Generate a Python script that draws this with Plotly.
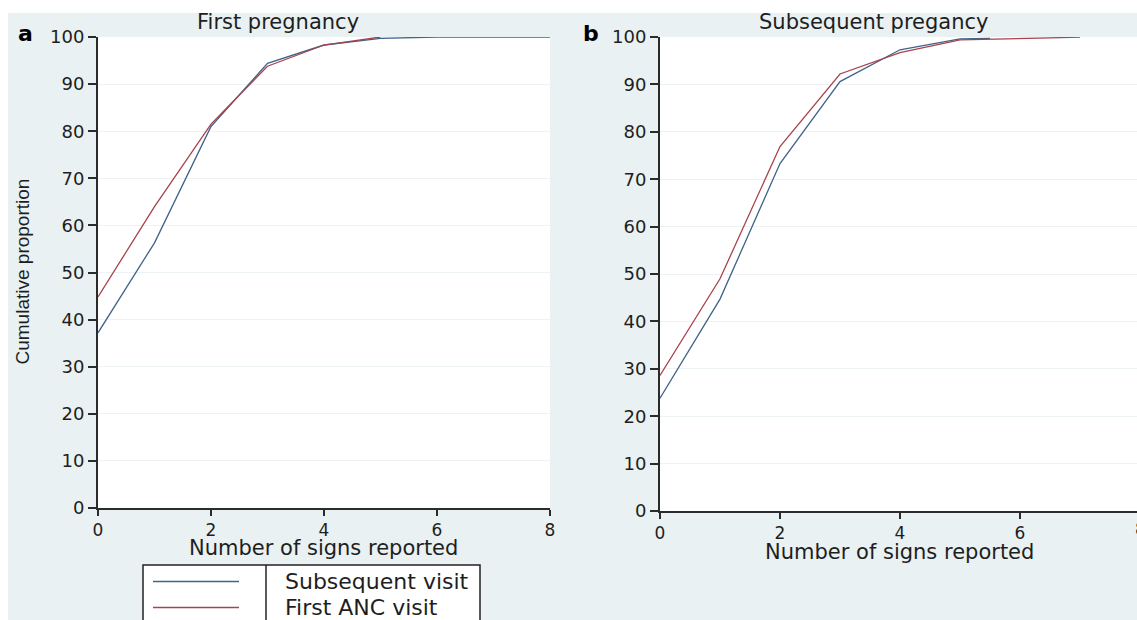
import plotly.graph_objects as go

W, H = 1137, 620

# ---- data ----
a_sub_x = [0, 1, 2, 3, 4, 5, 6, 7, 8]
a_sub_y = [37.2, 56.3, 81.0, 94.4, 98.3, 99.7, 100, 100, 100]
a_first_x = [0, 1, 2, 3, 4, 5]
a_first_y = [44.8, 64.0, 81.5, 93.8, 98.3, 100]

b_sub_x = [0, 1, 2, 3, 4, 5, 5.5]
b_sub_y = [23.8, 44.7, 73.3, 90.6, 97.3, 99.6, 99.7]
b_first_x = [0, 1, 2, 3, 4, 5, 6.5, 7]
b_first_y = [28.6, 49.0, 76.9, 92.2, 96.7, 99.4, 99.8, 100]

panel_titles = ["First pregnancy", "Subsequent pregancy"]
panel_letters = ["a", "b"]
series_names = ["Subsequent visit", "First ANC visit"]
x_title = "Number of signs reported"
y_title = "Cumulative proportion"
y_ticks = list(range(0, 101, 10))
x_ticks = [0, 2, 4, 6, 8]

BLUE = "#3f6389"
RED = "#a8434c"
BG = "#e9f1f2"
AXC = "#2b2b2b"
TXT = "#1e1e1e"
TICKFONT = dict(family="DejaVu Sans", size=18, color=TXT)
XTICKFONT = dict(family="DejaVu Sans", size=17, color=TXT)


def px(x):
    return x / W


def py(y):
    return (H - y) / H


fig = go.Figure()
fig.add_trace(go.Scatter(x=a_sub_x, y=a_sub_y, mode="lines", line=dict(color=BLUE, width=1.3),
                         xaxis="x", yaxis="y", name=series_names[0], showlegend=False))
fig.add_trace(go.Scatter(x=a_first_x, y=a_first_y, mode="lines", line=dict(color=RED, width=1.3),
                         xaxis="x", yaxis="y", name=series_names[1], showlegend=False))
fig.add_trace(go.Scatter(x=b_sub_x, y=b_sub_y, mode="lines", line=dict(color=BLUE, width=1.3),
                         xaxis="x2", yaxis="y2", name=series_names[0], showlegend=False))
fig.add_trace(go.Scatter(x=b_first_x, y=b_first_y, mode="lines", line=dict(color=RED, width=1.3),
                         xaxis="x2", yaxis="y2", name=series_names[1], showlegend=False))

xcommon = dict(showgrid=False, zeroline=False, showline=True, linecolor=AXC, linewidth=2,
               ticks="outside", ticklen=6, tickwidth=1.5, tickcolor=AXC, tickfont=XTICKFONT,
               tickvals=x_ticks, fixedrange=True, automargin=False)
ycommon = dict(showgrid=True, gridcolor="#edf3f4", gridwidth=1, zeroline=False, showline=True,
               linecolor=AXC, linewidth=2, ticks="outside", ticklen=8, tickwidth=1.5,
               tickcolor=AXC, tickfont=TICKFONT, tickvals=y_ticks, range=[0, 100],
               fixedrange=True, automargin=False)

fig.update_layout(
    template="none",
    width=W, height=H,
    margin=dict(l=0, r=0, t=0, b=0, pad=0, autoexpand=False),
    paper_bgcolor=BG, plot_bgcolor="white",
    showlegend=False,
    xaxis=dict(domain=[px(98), px(550)], range=[0, 8], anchor="y", **xcommon),
    yaxis=dict(domain=[py(508), py(37)], anchor="x", **ycommon),
    xaxis2=dict(domain=[px(660), 1.0], range=[0, (W - 660) / 60.0], anchor="y2", **xcommon),
    yaxis2=dict(domain=[py(511), py(37)], anchor="x2", **ycommon),
)

shapes = [
    # white strips at top and left of the image
    dict(type="rect", xref="paper", yref="paper", x0=0, x1=1, y0=py(13), y1=1.0,
         fillcolor="white", line=dict(width=0), layer="below"),
    dict(type="rect", xref="paper", yref="paper", x0=0, x1=px(8), y0=0, y1=1.0,
         fillcolor="white", line=dict(width=0), layer="below"),
    # legend box
    dict(type="rect", xref="paper", yref="paper", x0=px(143), x1=px(480), y0=py(640), y1=py(565),
         fillcolor="white", line=dict(color="#222", width=1.5)),
    dict(type="line", xref="paper", yref="paper", x0=px(266), x1=px(266), y0=py(640), y1=py(565),
         line=dict(color="#222", width=1.5)),
    dict(type="line", xref="paper", yref="paper", x0=px(153), x1=px(239), y0=py(581.5), y1=py(581.5),
         line=dict(color=BLUE, width=1.5)),
    dict(type="line", xref="paper", yref="paper", x0=px(153), x1=px(239), y0=py(607.5), y1=py(607.5),
         line=dict(color=RED, width=1.5)),
]
fig.update_layout(shapes=shapes)

ann = []
# panel titles
ann.append(dict(text=panel_titles[0], x=px(278), y=py(22), xref="paper", yref="paper",
                showarrow=False, xanchor="center", yanchor="middle",
                font=dict(family="DejaVu Sans", size=21, color=TXT)))
ann.append(dict(text=panel_titles[1], x=px(874), y=py(22), xref="paper", yref="paper",
                showarrow=False, xanchor="center", yanchor="middle",
                font=dict(family="DejaVu Sans", size=21, color=TXT)))
# panel letters
ann.append(dict(text="<b>%s</b>" % panel_letters[0], x=px(25), y=py(34), xref="paper", yref="paper",
                showarrow=False, xanchor="center", yanchor="middle",
                font=dict(family="DejaVu Sans", size=22, color="black")))
ann.append(dict(text="<b>%s</b>" % panel_letters[1], x=px(591), y=py(33), xref="paper", yref="paper",
                showarrow=False, xanchor="center", yanchor="middle",
                font=dict(family="DejaVu Sans", size=22, color="black")))
# y-axis title
ann.append(dict(text=y_title, x=px(22), y=py(271.5), xref="paper", yref="paper", textangle=-90,
                showarrow=False, xanchor="center", yanchor="middle",
                font=dict(family="Liberation Sans", size=19, color=TXT)))
# x-axis titles
ann.append(dict(text=x_title, x=px(323.5), y=py(548), xref="paper", yref="paper",
                showarrow=False, xanchor="center", yanchor="middle",
                font=dict(family="DejaVu Sans", size=21, color=TXT)))
ann.append(dict(text=x_title, x=px(900), y=py(552), xref="paper", yref="paper",
                showarrow=False, xanchor="center", yanchor="middle",
                font=dict(family="DejaVu Sans", size=21, color=TXT)))
# clipped "8" tick label at the right edge of panel b
ann.append(dict(text=str(x_ticks[-1]), x=px(1140), y=py(529), xref="paper", yref="paper",
                showarrow=False, xanchor="center", yanchor="middle", font=XTICKFONT))
# legend texts
ann.append(dict(text=series_names[0], x=px(283), y=py(581.5), xref="paper", yref="paper",
                showarrow=False, xanchor="left", yanchor="middle",
                font=dict(family="DejaVu Sans", size=22, color=TXT)))
ann.append(dict(text=series_names[1], x=px(283), y=py(607.5), xref="paper", yref="paper",
                showarrow=False, xanchor="left", yanchor="middle",
                font=dict(family="DejaVu Sans", size=22, color=TXT)))
fig.update_layout(annotations=ann)

fig.write_html("out.html", config={"displayModeBar": False})
